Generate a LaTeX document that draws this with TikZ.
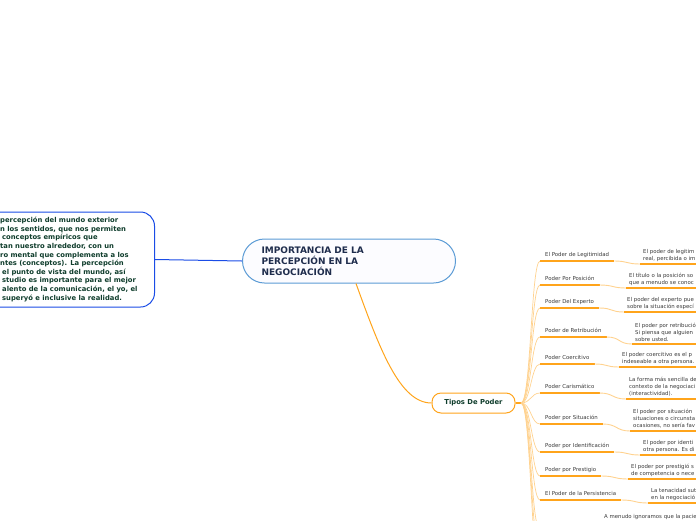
\documentclass[tikz,border=0pt]{standalone}
\usepackage{fontspec}
\setmainfont{DejaVu Sans}
\usetikzlibrary{positioning}
\definecolor{mBlue}{HTML}{1A4CE6}
\definecolor{mSkyBlue}{HTML}{5B9BD5}
\definecolor{mNavy}{HTML}{1F2D4D}
\definecolor{mDarkGreen}{HTML}{0F3D2C}
\definecolor{mOrange}{HTML}{FFA41B}
\definecolor{mLightOrange}{HTML}{FFD28F}
\definecolor{mGrey}{HTML}{3A3A3A}

\begin{document}
\begin{tikzpicture}[x=1pt, y=-1pt,
    srcbox/.style={draw=mBlue, line width=1pt, rounded corners=14pt, fill=white},
    srctxt/.style={font=\fontsize{6.8}{8.6}\selectfont\bfseries, text=mDarkGreen, align=left, inner sep=0pt},
    titlebox/.style={draw=mSkyBlue, line width=1pt, rounded corners=22pt, fill=blue!1,
      font=\fontsize{9}{11}\selectfont\bfseries, text=mNavy, align=left,
      text width=175pt, inner xsep=19pt, minimum height=44pt},
    typebox/.style={draw=mOrange, line width=1pt, rounded corners=9pt, fill=white,
      font=\fontsize{6.8}{8}\selectfont\bfseries, text=mDarkGreen, minimum width=83pt, minimum height=20pt},
    childtxt/.style={font=\fontsize{5.4}{7}\selectfont, text=mGrey, inner xsep=5pt, inner ysep=3pt, text depth=1.3pt, anchor=south west},
    leaftxt/.style={font=\fontsize{5.4}{7}\selectfont, text=mGrey, align=left, inner xsep=3pt, inner ysep=2.5pt, anchor=south west},
    uline/.style={draw=mOrange, line width=1.6pt},
    fanline/.style={draw=mLightOrange, line width=0.7pt},
    linkline/.style={draw=mLightOrange, line width=0.9pt}]
  \useasboundingbox (0,0) rectangle (696,520);

  \node[srcbox, minimum width=220pt, minimum height=95pt, anchor=east] (fuente) at (155,259.5) {};
  \node[srctxt, anchor=north west] (fuentetxt) at (0,217) {percepción del mundo exterior\\
    n los sentidos, que nos permiten\\
    \hspace*{2pt}conceptos empíricos que\\
    tan nuestro alrededor, con un\\
    ro mental que complementa a los\\
    ntes (conceptos). La percepción\\
    \hspace*{2pt}el punto de vista del mundo, así\\
    \hspace*{2pt}studio es importante para el mejor\\
    \hspace*{2pt}alento de la comunicación, el yo, el\\
    \hspace*{2pt}superyó e inclusive la realidad.};

  \node[titlebox, anchor=west] (titulo) at (242,261) {IMPORTANCIA DE LA\\PERCEPCIÓN EN LA\\NEGOCIACIÓN};
  \draw[mBlue, line width=1pt] (fuente.east) -- (titulo.west);

  \node[typebox] (tipos) at (473.5,403) {Tipos De Poder};
  \draw[mOrange, line width=1pt] ([xshift=7pt]titulo.south) .. controls (380,350) and (400,403) .. (tipos.west);
  \coordinate (hub) at (521,403);
  \draw[uline] (tipos.east) -- (hub);

  \foreach \lbl/\yu/\xl/\yl/\txt [count=\i] in {
      El Poder de Legitimidad/261/640/264/{El poder de legitim\\real, percibida o im},
      Poder Por Posición/285/626/288/{El título o la posición so\\que a menudo se conoc},
      Poder Del Experto/308/624/312/{El poder del experto pue\\sobre la situación especí},
      Poder de Retribución/337/632/344/{El poder por retribució\\Si piensa que alguien\\sobre usted.},
      Poder Coercitivo/364/619/367/{El poder coercitivo es el p\\indeseable a otra persona.},
      Poder Carismático/393/626/399/{La forma más sencilla de\\contexto de la negociaci\\(interactividad).},
      Poder por Situación/424/630/431/{El poder por situación\\situaciones o circunsta\\ocasiones, no sería fav},
      Poder por Identificación/452/640/455/{El poder por identi\\otra persona. Es di},
      Poder por Prestigio/476/628/479/{El poder por prestigió s\\de competencia o nece},
      El Poder de la Persistencia/500/648/503/{La tenacidad sut\\en la negociació}} {
    \node[childtxt] (c\i) at (540,\yu) {\lbl};
    \node[leaftxt] (l\i) at (\xl,\yl) {\txt};
    \draw[fanline] (hub) .. controls (531,403) and (531,\yu) .. (c\i.south west);
    \draw[uline] (c\i.south west) -- (c\i.south east);
    \draw[linkline] (c\i.south east) .. controls +(14,0) and +(-14,0) .. (l\i.south west);
    \draw[uline] (l\i.south west) -- (l\i.south east);
  }

  \node[leaftxt] (l11) at (601,522) {A menudo ignoramos que la pacie};
  \foreach \yo [count=\j] in {530,550,570} {
    \coordinate (cx\j) at (540,\yo);
    \draw[fanline] (hub) .. controls (531,403) and (531,\yo) .. (cx\j);
  }
\end{tikzpicture}
\end{document}
